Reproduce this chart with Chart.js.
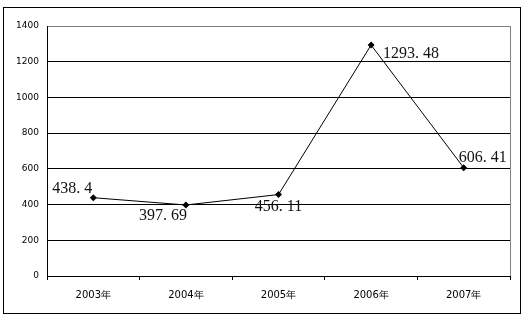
<!DOCTYPE html>
<html lang="zh">
<head>
    <meta charset="UTF-8">
    <title>2003-2007年</title>
    <script src="https://cdn.jsdelivr.net/npm/chart.js"></script>
    <style>
        html, body { margin: 0; padding: 0; background: #fff; }
        #wrap { position: relative; width: 526px; height: 318px; }
    </style>
</head>
<body>
<div id="wrap"><canvas id="lineChart" width="526" height="318"></canvas></div>
<script>
    // 数据
    var years = ['2003年', '2004年', '2005年', '2006年', '2007年'];
    var values = [438.4, 397.69, 456.11, 1293.48, 606.41];
    var yTicks = [0, 200, 400, 600, 800, 1000, 1200, 1400];

    // 数据标签的位置 (相对于点)
    var labelPos = [
        { dx: -1, dy: -5, align: 'right' },
        { dx: -23, dy: 15, align: 'center' },
        { dx: 0, dy: 16, align: 'center' },
        { dx: 12, dy: 13, align: 'left' },
        { dx: -5, dy: -6, align: 'left' }
    ];

    // 外框和右侧灰线
    var framePlugin = {
        id: 'frame',
        beforeDraw: function (chart) {
            var c = chart.ctx;
            c.save();
            c.fillStyle = '#fff';
            c.fillRect(0, 0, chart.width, chart.height);
            c.strokeStyle = '#000';
            c.lineWidth = 1;
            c.strokeRect(3.5, 7.5, 517, 306);
            c.restore();
        },
        afterDraw: function (chart) {
            var c = chart.ctx, a = chart.chartArea;
            c.save();
            c.strokeStyle = '#808080';
            c.lineWidth = 1;
            c.beginPath();
            c.moveTo(Math.round(a.right) + 0.5, a.top);
            c.lineTo(Math.round(a.right) + 0.5, a.bottom);
            c.stroke();
            c.restore();
        }
    };

    // 数据标签
    var labelPlugin = {
        id: 'valueLabels',
        afterDatasetsDraw: function (chart) {
            var c = chart.ctx;
            var pts = chart.getDatasetMeta(0).data;
            c.save();
            c.font = '16px "Liberation Serif", "DejaVu Serif", serif';
            c.fillStyle = '#111';
            c.textBaseline = 'alphabetic';
            pts.forEach(function (p, i) {
                var pos = labelPos[i];
                var txt = String(values[i]).replace('.', '. ');
                c.textAlign = pos.align;
                c.fillText(txt, p.x + pos.dx, p.y + pos.dy);
            });
            c.restore();
        }
    };

    var ctx = document.getElementById('lineChart').getContext('2d');
    new Chart(ctx, {
        type: 'line',
        data: {
            labels: years,
            datasets: [{
                data: values,
                borderColor: '#000',
                borderWidth: 1,
                backgroundColor: '#000',
                pointStyle: 'rectRot',
                pointRadius: 3.5,
                pointBorderWidth: 0,
                fill: false,
                tension: 0
            }]
        },
        options: {
            responsive: false,
            animation: false,
            layout: { padding: { top: 26, right: 16, bottom: 0, left: 0 } },
            plugins: { legend: { display: false }, tooltip: { enabled: false } },
            scales: {
                x: {
                    offset: true,
                    grid: { offset: true, drawOnChartArea: false, drawTicks: true, tickLength: 4, color: '#000' },
                    border: { color: '#000' },
                    ticks: { color: '#000', font: { family: 'DejaVu Sans', size: 10 }, padding: 9, maxRotation: 0 },
                    afterFit: function (s) { s.height = 42; }
                },
                y: {
                    min: 0,
                    max: 1400,
                    afterBuildTicks: function (s) { s.ticks = yTicks.map(function (v) { return { value: v }; }); },
                    grid: {
                        drawTicks: false,
                        color: function (c) { return c.tick && c.tick.value === 1400 ? '#808080' : '#000'; }
                    },
                    border: { color: '#000' },
                    ticks: {
                        color: '#000',
                        font: { family: 'DejaVu Sans', size: 9 },
                        padding: 8,
                        callback: function (v) { return String(v); }
                    },
                    afterFit: function (s) { s.width = 47; }
                }
            }
        },
        plugins: [framePlugin, labelPlugin]
    });
</script>
</body>
</html>
